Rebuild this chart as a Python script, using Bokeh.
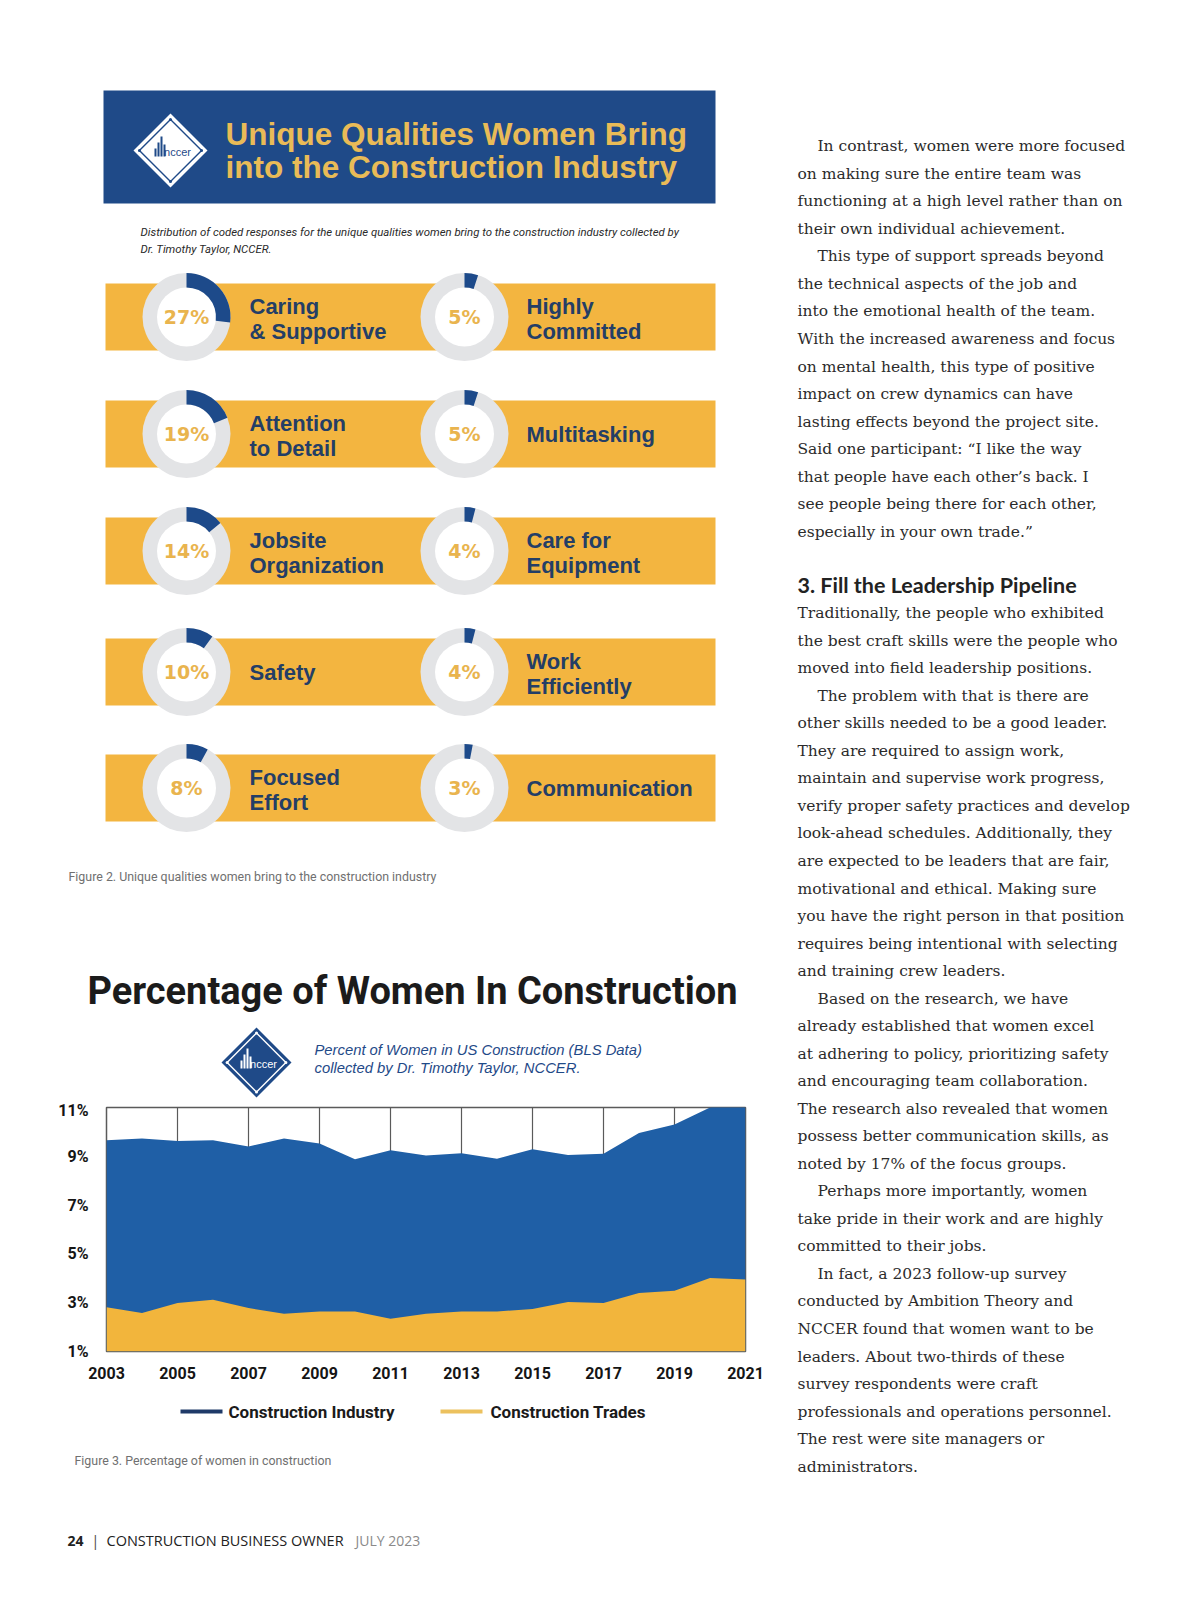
import math
from bokeh.plotting import figure
from bokeh.models import Range1d, FixedTicker
from bokeh.layouts import row, column
from bokeh.core.properties import value
from bokeh.embed import file_html
from bokeh.resources import INLINE

# ---------------- data ----------------
left_labels = [["Caring", "& Supportive"], ["Attention", "to Detail"], ["Jobsite", "Organization"],
               ["Safety"], ["Focused", "Effort"]]
left_pcts = [27, 19, 14, 10, 8]
right_labels = [["Highly", "Committed"], ["Multitasking"], ["Care for", "Equipment"],
                ["Work", "Efficiently"], ["Communication"]]
right_pcts = [5, 5, 4, 4, 3]

years = list(range(2003, 2022))
industry = [9.66, 9.73, 9.63, 9.66, 9.40, 9.73, 9.52, 8.88, 9.25, 9.03,
            9.12, 8.90, 9.29, 9.05, 9.10, 9.95, 10.30, 11.00, 11.30]
trades = [2.81, 2.58, 2.99, 3.12, 2.78, 2.55, 2.64, 2.64, 2.34, 2.55,
          2.64, 2.64, 2.74, 3.03, 2.99, 3.40, 3.49, 4.01, 3.95]
year_ticks = list(range(2003, 2022, 2))
pct_ticks = [1, 3, 5, 7, 9, 11]
pct_tick_labels = ["1%", "3%", "5%", "7%", "9%", "11%"]
series_names = ["Construction Industry", "Construction Trades"]

block1 = [
    ("In contrast, women were more focused", True),
    ("on making sure the entire team was", False),
    ("functioning at a high level rather than on", False),
    ("their own individual achievement.", False),
    ("This type of support spreads beyond", True),
    ("the technical aspects of the job and", False),
    ("into the emotional health of the team.", False),
    ("With the increased awareness and focus", False),
    ("on mental health, this type of positive", False),
    ("impact on crew dynamics can have", False),
    ("lasting effects beyond the project site.", False),
    ("Said one participant: \u201cI like the way", False),
    ("that people have each other\u2019s back. I", False),
    ("see people being there for each other,", False),
    ("especially in your own trade.\u201d", False),
]
heading = "3. Fill the Leadership Pipeline"
block2 = [
    ("Traditionally, the people who exhibited", False),
    ("the best craft skills were the people who", False),
    ("moved into field leadership positions.", False),
    ("The problem with that is there are", True),
    ("other skills needed to be a good leader.", False),
    ("They are required to assign work,", False),
    ("maintain and supervise work progress,", False),
    ("verify proper safety practices and develop", False),
    ("look-ahead schedules. Additionally, they", False),
    ("are expected to be leaders that are fair,", False),
    ("motivational and ethical. Making sure", False),
    ("you have the right person in that position", False),
    ("requires being intentional with selecting", False),
    ("and training crew leaders.", False),
    ("Based on the research, we have", True),
    ("already established that women excel", False),
    ("at adhering to policy, prioritizing safety", False),
    ("and encouraging team collaboration.", False),
    ("The research also revealed that women", False),
    ("possess better communication skills, as", False),
    ("noted by 17% of the focus groups.", False),
    ("Perhaps more importantly, women", True),
    ("take pride in their work and are highly", False),
    ("committed to their jobs.", False),
    ("In fact, a 2023 follow-up survey", True),
    ("conducted by Ambition Theory and", False),
    ("NCCER found that women want to be", False),
    ("leaders. About two-thirds of these", False),
    ("survey respondents were craft", False),
    ("professionals and operations personnel.", False),
    ("The rest were site managers or", False),
    ("administrators.", False),
]

# ---------------- style ----------------
NAVY = "#1f4a88"
TITLE_GOLD = "#e9bb57"
BAR_GOLD = "#f3b540"
RING = "#e3e4e6"
ARC_NAVY = "#1d4a8a"
PCT_GOLD = "#e9b44e"
LABEL_NAVY = "#243e66"
AREA_BLUE = "#1f5fa6"
AREA_GOLD = "#f2b53c"
LEG_BLUE = "#1f3a68"
LEG_GOLD = "#ecc15e"
GRID = "#5a5a5a"
COND = "Roboto"
SANS = "Liberation Sans"


def canvas(x0, x1, y0, y1):
    p = figure(width=x1 - x0, height=y1 - y0, x_range=Range1d(x0, x1), y_range=Range1d(-y1, -y0),
               x_axis_type=None, y_axis_type=None, output_backend="svg",
               toolbar_location=None, min_border=0)
    p.frame_align = False
    p.outline_line_color = None
    p.background_fill_color = "white"
    p.border_fill_color = "white"
    return p


def txt(p, xs, ys, texts, size, color, font, style="normal", align="left"):
    p.text(x=list(xs), y=[-y for y in ys], text=list(texts), text_font=value(font),
           text_font_size=f"{size}px", text_font_style=style, text_color=color,
           text_align=align, text_baseline="middle")


def logo(p, cx, cy, r, light):
    side = r * math.sqrt(2)
    bg = "white" if light else NAVY
    fg = NAVY if light else "white"
    p.scatter(x=[cx], y=[-cy], marker="square", size=side, angle=math.pi / 4,
              fill_color=bg, line_color=None)
    p.scatter(x=[cx], y=[-cy], marker="square", size=side * 0.84, angle=math.pi / 4,
              fill_color=None, line_color=fg, line_width=1.4)
    d = r * 0.84
    p.scatter(x=[cx - d, cx + d, cx, cx], y=[-cy, -cy, -cy - d, -cy + d], marker="circle",
              size=3, fill_color=fg, line_color=None)
    bx = [cx - 15, cx - 12, cx - 9, cx - 6]
    bh = [8, 14, 20, 12]
    p.quad(left=[b - 1 for b in bx], right=[b + 1 for b in bx], bottom=[-cy - 6] * 4,
           top=[-cy - 6 + h for h in bh], fill_color=fg, line_color=None)
    txt(p, [cx + 7], [cy + 1], ["nccer"], 11, fg, SANS, "normal", "center")


# ---------------- top canvas (infographic + chart title) ----------------
top = canvas(0, 770, 0, 1100)
top.quad(left=[103], right=[715], top=[-90], bottom=[-203], fill_color=NAVY, line_color=None)
logo(top, 170, 150, 37, True)
txt(top, [225, 225], [133, 166], ["Unique Qualities Women Bring", "into the Construction Industry"],
    31.5, TITLE_GOLD, SANS, "bold")
txt(top, [140, 140], [231, 248],
    ["Distribution of coded responses for the unique qualities women bring to the construction industry collected by",
     "Dr. Timothy Taylor, NCCER."], 11.4, "#2a2a2a", COND, "italic")

bar_tops = [283, 400, 517, 638, 754]
BAR_H = 67
centers = [t + BAR_H / 2 for t in bar_tops]
top.quad(left=[105] * 5, right=[715] * 5, top=[-t for t in bar_tops],
         bottom=[-(t + BAR_H) for t in bar_tops], fill_color=BAR_GOLD, line_color=None)

dx, dy, dp = [], [], []
for cx, pcts in ((186, left_pcts), (464, right_pcts)):
    for yc, pc in zip(centers, pcts):
        dx.append(cx)
        dy.append(yc)
        dp.append(pc)
top.circle(x=dx, y=[-y for y in dy], radius=44, fill_color=RING, line_color=None)
top.circle(x=dx, y=[-y for y in dy], radius=29.5, fill_color="white", line_color=None)
top.annular_wedge(x=dx, y=[-y for y in dy], inner_radius=29.5, outer_radius=44,
                  start_angle=[math.pi / 2 - 2 * math.pi * pc / 100 for pc in dp],
                  end_angle=[math.pi / 2] * len(dp), direction="anticlock",
                  fill_color=ARC_NAVY, line_color=None)
txt(top, dx, dy, [f"{pc}%" for pc in dp], 19, PCT_GOLD, "DejaVu Sans", "bold", "center")

lx, ly, lt = [], [], []
for x0, labels in ((249, left_labels), (526, right_labels)):
    for yc, lines in zip(centers, labels):
        offs = [0] if len(lines) == 1 else [-11, 14]
        for ln, o in zip(lines, offs):
            lx.append(x0)
            ly.append(yc + o)
            lt.append(ln)
txt(top, lx, ly, lt, 22, LABEL_NAVY, SANS, "bold")

txt(top, [68], [876], ["Figure 2. Unique qualities women bring to the construction industry"],
    12.4, "#707070", COND)
txt(top, [412], [990], ["Percentage of Women In Construction"], 38, "#1b1b1b", COND, "bold", "center")
logo(top, 256, 1062, 35, False)
txt(top, [314, 314], [1049, 1067],
    ["Percent of Women in US Construction (BLS Data)", "collected by Dr. Timothy Taylor, NCCER."],
    14.8, NAVY, SANS, "italic")

# ---------------- area chart ----------------
chart = figure(width=770, height=292, x_range=Range1d(years[0], years[-1]),
               y_range=Range1d(pct_ticks[0], pct_ticks[-1]), output_backend="svg",
               toolbar_location=None, min_border_left=106, min_border_right=25,
               min_border_top=7, min_border_bottom=41)
chart.frame_align = False
base = chart.y_range.start
chart.varea(x=years, y1=[base] * len(years), y2=industry, fill_color=AREA_BLUE)
chart.varea(x=years, y1=[base] * len(years), y2=trades, fill_color=AREA_GOLD)
chart.background_fill_color = "white"
chart.border_fill_color = "white"
chart.outline_line_color = GRID
chart.outline_line_width = 1.5
chart.xaxis.ticker = FixedTicker(ticks=year_ticks)
chart.yaxis.ticker = FixedTicker(ticks=pct_ticks)
chart.xaxis.major_label_overrides = {y: str(y) for y in year_ticks}
chart.yaxis.major_label_overrides = dict(zip(pct_ticks, pct_tick_labels))
for ax in (chart.xaxis, chart.yaxis):
    ax.axis_line_color = None
    ax.major_tick_line_color = None
    ax.minor_tick_line_color = None
    ax.major_label_text_font = COND
    ax.major_label_text_font_style = "bold"
    ax.major_label_text_font_size = "16px"
    ax.major_label_text_color = "#151515"
chart.yaxis.major_label_standoff = 12
chart.xaxis.major_label_standoff = 9
chart.xgrid.ticker = FixedTicker(ticks=year_ticks)
chart.xgrid.grid_line_color = GRID
chart.xgrid.grid_line_width = 1.2
chart.ygrid.grid_line_color = None

# ---------------- bottom canvas (legend, caption, footer) ----------------
bottom = canvas(0, 770, 1392, 1590)
bottom.segment(x0=[180, 440], y0=[-1411, -1411], x1=[222, 482], y1=[-1411, -1411],
               line_color=[LEG_BLUE, LEG_GOLD], line_width=4)
txt(bottom, [228, 490], [1411, 1411], series_names, 17, "#1b1b1b", COND, "bold")
txt(bottom, [74], [1460], ["Figure 3. Percentage of women in construction"], 12.4, "#707070", COND)
txt(bottom, [67], [1540], ["24"], 14, "#222222", "Open Sans", "bold")
txt(bottom, [91], [1540], ["|"], 14, "#444444", "Open Sans")
txt(bottom, [106], [1540], ["CONSTRUCTION BUSINESS OWNER"], 14.5, "#222222", "Open Sans")
txt(bottom, [355], [1540], ["JULY 2023"], 14, "#8a8a8a", "Open Sans")

# ---------------- right column text ----------------
right = canvas(770, 1200, 0, 1590)
LINE = 27.53
tx, ty, tt = [], [], []
for i, (ln, ind) in enumerate(block1):
    tx.append(817 if ind else 797)
    ty.append(145.8 + i * LINE)
    tt.append(ln)
for j, (ln, ind) in enumerate(block2):
    tx.append(817 if ind else 797)
    ty.append(612.7 + j * LINE)
    tt.append(ln)
txt(right, tx, ty, tt, 15.5, "#2b2b2b", "DejaVu Serif")
txt(right, [797], [584], [heading], 21.5, "#222222", "Lato", "bold")

layout = row(column(top, chart, bottom), right)
open("out.html", "w").write(file_html(layout, INLINE))
